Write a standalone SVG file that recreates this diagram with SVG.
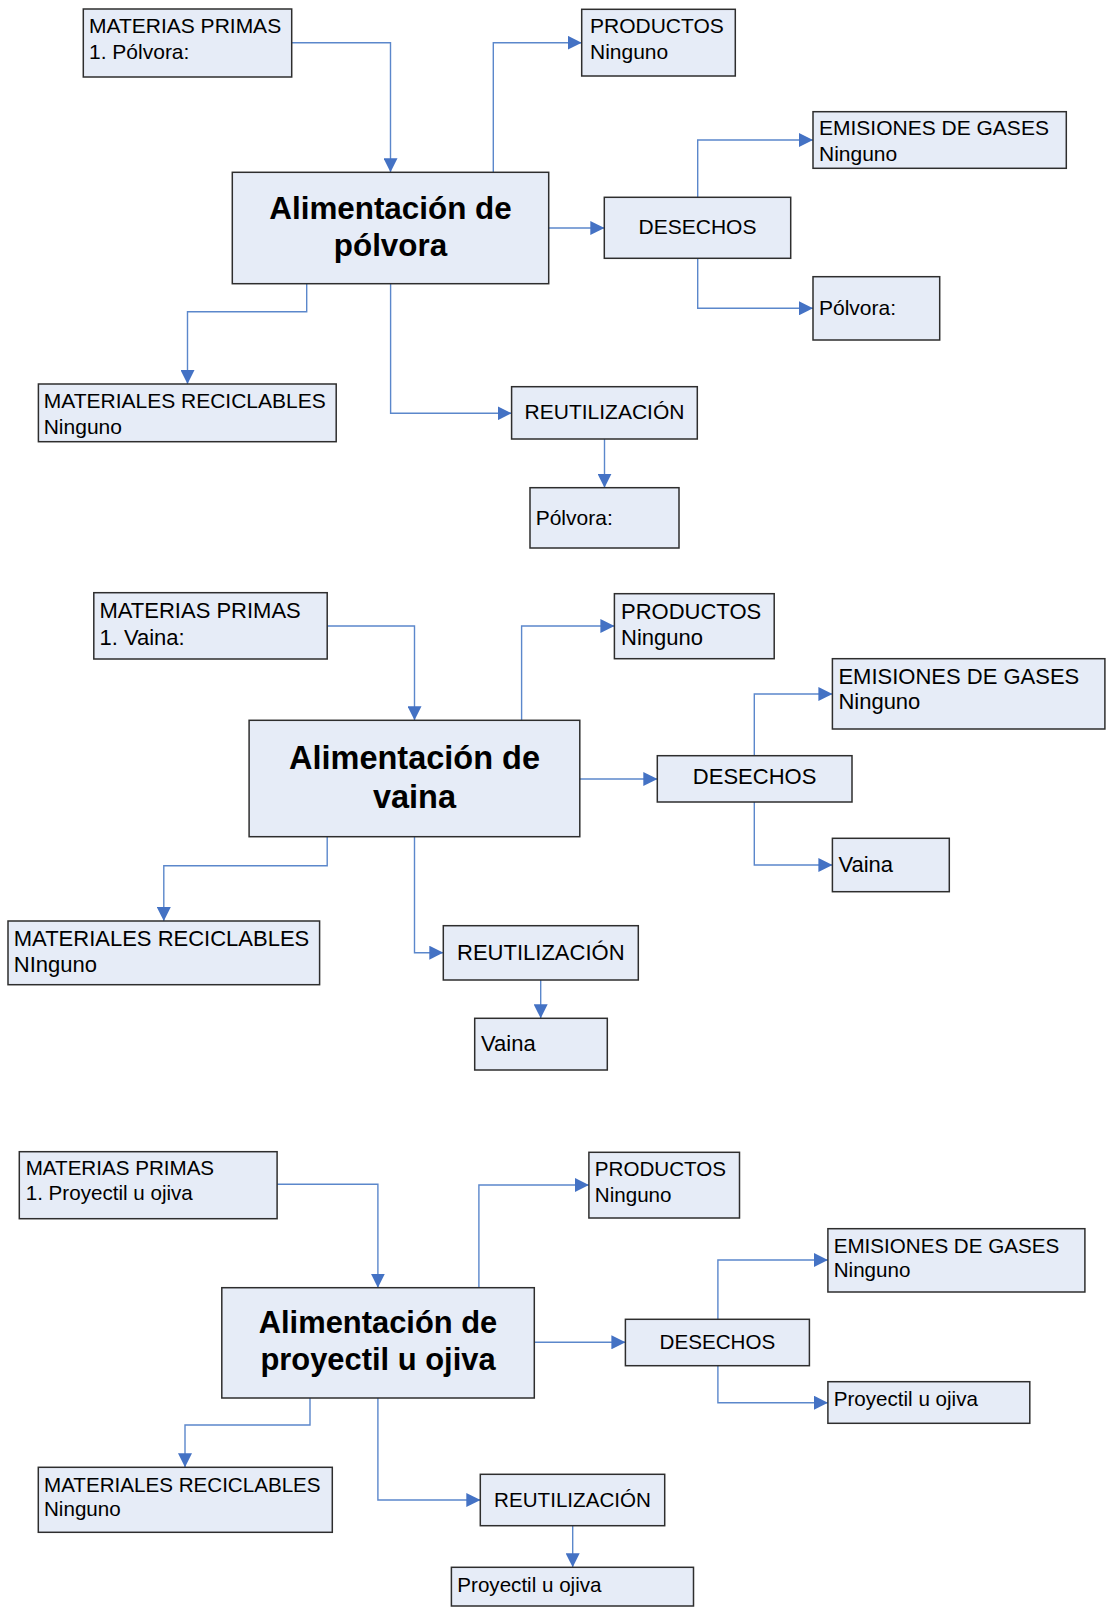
<svg xmlns="http://www.w3.org/2000/svg" width="1107" height="1607" viewBox="0 0 1107 1607">
  <style>
    .box { fill: #E6ECF7; stroke: #2E2E2E; stroke-width: 1.5; }
    .t { font-family: "Liberation Sans", Arial, sans-serif; fill: #000; }
    .s1 { font-size: 21px; }
    .s2 { font-size: 22px; }
    .s3 { font-size: 20.6px; }
    .c { text-anchor: middle; }
    .title { font-weight: bold; text-anchor: middle; }
    .link { fill: none; stroke: #5B87CB; stroke-width: 1.4; marker-end: url(#arrow); }
  </style>
  <defs>
    <marker id="arrow" markerWidth="14" markerHeight="14" refX="14" refY="7" orient="auto" markerUnits="userSpaceOnUse">
      <path d="M0,0 L14,7 L0,14 z" fill="#4472C4"/>
    </marker>
  </defs>

  <rect width="1107" height="1607" fill="#FFFFFF"/>

  <!-- Connectors -->
  <g id="connectors">
    <!-- pólvora -->
    <path class="link" d="M291.7,42.7 H390.5 V172.3"/>
    <path class="link" d="M493.3,172.3 V42.7 H581.7"/>
    <path class="link" d="M548.7,228 H604.3"/>
    <path class="link" d="M697.7,197.3 V140 H813"/>
    <path class="link" d="M697.7,258.3 V308.3 H813"/>
    <path class="link" d="M306.7,283.7 V311.7 H187.5 V384"/>
    <path class="link" d="M390.6,283.7 V413.3 H511.6"/>
    <path class="link" d="M604.5,439 V487.7"/>
    <!-- vaina -->
    <path class="link" d="M327.2,626 H414.5 V720.3"/>
    <path class="link" d="M521.6,720.3 V626 H614.4"/>
    <path class="link" d="M579.8,779 H657.3"/>
    <path class="link" d="M754.3,755.7 V694 H832.4"/>
    <path class="link" d="M754.3,802 V865 H832.4"/>
    <path class="link" d="M327.2,836.7 V865.7 H163.8 V921"/>
    <path class="link" d="M414.5,836.7 V952.7 H443.3"/>
    <path class="link" d="M540.7,980 V1018.3"/>
    <!-- proyectil u ojiva -->
    <path class="link" d="M277.1,1184.3 H377.9 V1287.7"/>
    <path class="link" d="M478.9,1287.7 V1185 H588.9"/>
    <path class="link" d="M534.3,1342.3 H625.4"/>
    <path class="link" d="M717.9,1319.3 V1260 H827.9"/>
    <path class="link" d="M717.9,1365.7 V1402.7 H827.9"/>
    <path class="link" d="M310,1398 V1425 H185 V1467.3"/>
    <path class="link" d="M377.9,1398 V1500 H480.3"/>
    <path class="link" d="M572.7,1525.7 V1567.3"/>
  </g>

  <!-- Section 1: pólvora -->
  <g id="p-materias">
    <rect class="box" x="83.3" y="9" width="208.4" height="68"/>
    <text class="t s1" x="89" y="32.7">MATERIAS PRIMAS</text>
    <text class="t s1" x="89" y="59">1. Pólvora:</text>
  </g>
  <g id="p-productos">
    <rect class="box" x="581.7" y="9.3" width="153.6" height="66.7"/>
    <text class="t s1" x="590" y="33.3">PRODUCTOS</text>
    <text class="t s1" x="590" y="59.3">Ninguno</text>
  </g>
  <g id="p-main">
    <rect class="box" x="232.3" y="172.3" width="316.4" height="111.4"/>
    <text class="t title" font-size="31.4" x="390.5" y="219">Alimentación de</text>
    <text class="t title" font-size="31.4" x="390.5" y="255.7">pólvora</text>
  </g>
  <g id="p-desechos">
    <rect class="box" x="604.3" y="197.3" width="186.4" height="61"/>
    <text class="t s1 c" x="697.5" y="234">DESECHOS</text>
  </g>
  <g id="p-emisiones">
    <rect class="box" x="813" y="111.7" width="253.3" height="56.6"/>
    <text class="t s1" x="819" y="135">EMISIONES DE GASES</text>
    <text class="t s1" x="819" y="161">Ninguno</text>
  </g>
  <g id="p-desecho-polvora">
    <rect class="box" x="813" y="276.7" width="126.7" height="63.3"/>
    <text class="t s1" x="819" y="315">Pólvora:</text>
  </g>
  <g id="p-reciclables">
    <rect class="box" x="38.4" y="384" width="297.8" height="57.7"/>
    <text class="t s1" x="43.7" y="407.7">MATERIALES RECICLABLES</text>
    <text class="t s1" x="43.7" y="434">Ninguno</text>
  </g>
  <g id="p-reutilizacion">
    <rect class="box" x="511.6" y="386.7" width="185.7" height="52.3"/>
    <text class="t s1 c" x="604.5" y="419">REUTILIZACIÓN</text>
  </g>
  <g id="p-reutil-polvora">
    <rect class="box" x="530" y="487.7" width="149" height="60.3"/>
    <text class="t s1" x="535.7" y="525">Pólvora:</text>
  </g>

  <!-- Section 2: vaina -->
  <g id="v-materias">
    <rect class="box" x="93.8" y="592.7" width="233.4" height="66.3"/>
    <text class="t s2" x="99.5" y="617.7">MATERIAS PRIMAS</text>
    <text class="t s2" x="99.5" y="645">1. Vaina:</text>
  </g>
  <g id="v-productos">
    <rect class="box" x="614.4" y="593.7" width="159.8" height="65"/>
    <text class="t s2" x="621" y="619.3">PRODUCTOS</text>
    <text class="t s2" x="621" y="645">Ninguno</text>
  </g>
  <g id="v-main">
    <rect class="box" x="249.1" y="720.3" width="330.7" height="116.4"/>
    <text class="t title" font-size="32.5" x="414.5" y="769.3">Alimentación de</text>
    <text class="t title" font-size="32.5" x="414.5" y="808.3">vaina</text>
  </g>
  <g id="v-desechos">
    <rect class="box" x="657.3" y="755.7" width="194.7" height="46.3"/>
    <text class="t s2 c" x="754.6" y="784.3">DESECHOS</text>
  </g>
  <g id="v-emisiones">
    <rect class="box" x="832.4" y="658.7" width="272.5" height="70.3"/>
    <text class="t s2" x="838.4" y="684">EMISIONES DE GASES</text>
    <text class="t s2" x="838.4" y="709.3">Ninguno</text>
  </g>
  <g id="v-desecho-vaina">
    <rect class="box" x="832.4" y="838.3" width="116.9" height="53.4"/>
    <text class="t s2" x="838.4" y="872">Vaina</text>
  </g>
  <g id="v-reciclables">
    <rect class="box" x="8" y="921" width="311.6" height="63.7"/>
    <text class="t s2" x="13.8" y="945.7">MATERIALES RECICLABLES</text>
    <text class="t s2" x="13.8" y="972.3">NInguno</text>
  </g>
  <g id="v-reutilizacion">
    <rect class="box" x="443.3" y="925.7" width="195" height="54.3"/>
    <text class="t s2 c" x="540.8" y="960">REUTILIZACIÓN</text>
  </g>
  <g id="v-reutil-vaina">
    <rect class="box" x="474.7" y="1018.3" width="132.6" height="51.7"/>
    <text class="t s2" x="481" y="1050.7">Vaina</text>
  </g>

  <!-- Section 3: proyectil u ojiva -->
  <g id="o-materias">
    <rect class="box" x="19.3" y="1151.7" width="257.8" height="67"/>
    <text class="t s3" x="25.7" y="1175">MATERIAS PRIMAS</text>
    <text class="t s3" x="25.7" y="1200">1. Proyectil u ojiva</text>
  </g>
  <g id="o-productos">
    <rect class="box" x="588.9" y="1152.3" width="150.6" height="65.7"/>
    <text class="t s3" x="594.8" y="1176">PRODUCTOS</text>
    <text class="t s3" x="594.8" y="1201.7">Ninguno</text>
  </g>
  <g id="o-main">
    <rect class="box" x="221.8" y="1287.7" width="312.5" height="110.3"/>
    <text class="t title" font-size="30.9" x="378" y="1332.7">Alimentación de</text>
    <text class="t title" font-size="30.9" x="378" y="1370">proyectil u ojiva</text>
  </g>
  <g id="o-desechos">
    <rect class="box" x="625.4" y="1319.3" width="184" height="46.4"/>
    <text class="t s3 c" x="717.4" y="1348.7">DESECHOS</text>
  </g>
  <g id="o-emisiones">
    <rect class="box" x="827.9" y="1228.7" width="257" height="63.3"/>
    <text class="t s3" x="833.7" y="1252.7">EMISIONES DE GASES</text>
    <text class="t s3" x="833.7" y="1276.7">Ninguno</text>
  </g>
  <g id="o-desecho-proyectil">
    <rect class="box" x="827.9" y="1381.7" width="201.9" height="41.6"/>
    <text class="t s3" x="833.7" y="1405.7">Proyectil u ojiva</text>
  </g>
  <g id="o-reciclables">
    <rect class="box" x="38.3" y="1467.3" width="294" height="65"/>
    <text class="t s3" x="44" y="1491.7">MATERIALES RECICLABLES</text>
    <text class="t s3" x="44" y="1516">Ninguno</text>
  </g>
  <g id="o-reutilizacion">
    <rect class="box" x="480.3" y="1474.3" width="184.4" height="51.4"/>
    <text class="t s3 c" x="572.5" y="1506.7">REUTILIZACIÓN</text>
  </g>
  <g id="o-reutil-proyectil">
    <rect class="box" x="451.4" y="1567.3" width="242.1" height="38.7"/>
    <text class="t s3" x="457.3" y="1591.7">Proyectil u ojiva</text>
  </g>
</svg>
